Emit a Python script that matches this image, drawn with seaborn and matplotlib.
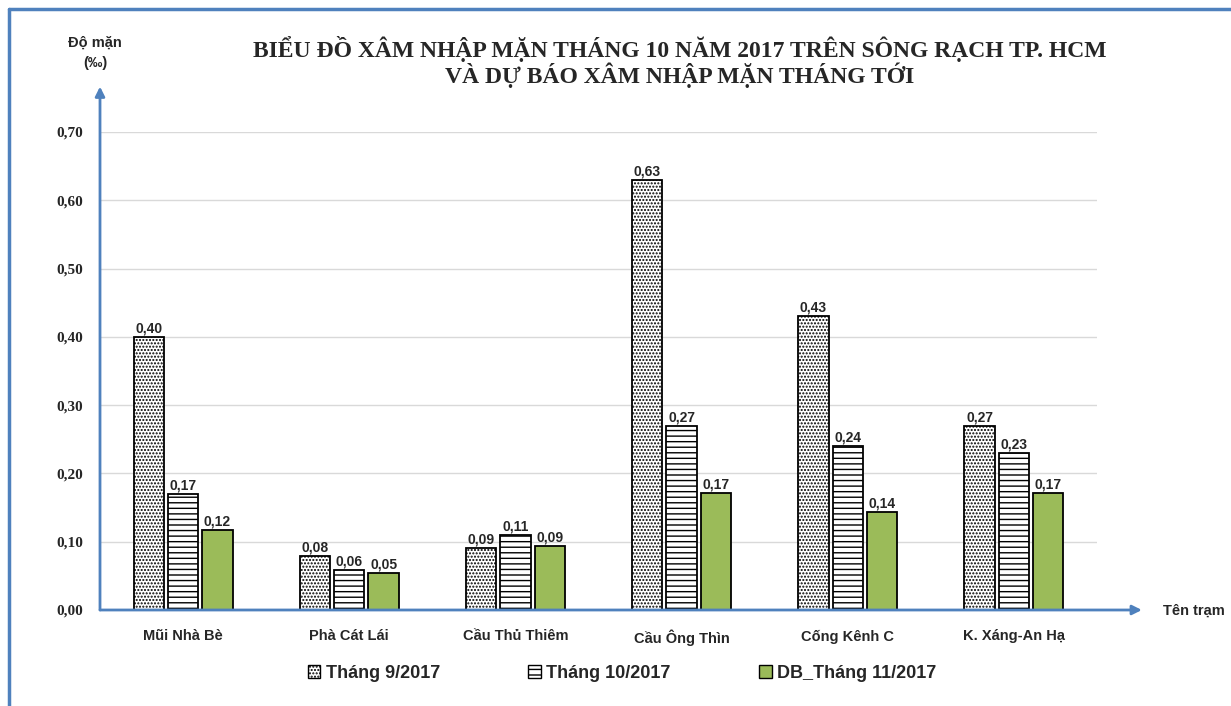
import matplotlib
matplotlib.use('Agg')
import matplotlib.pyplot as plt
import matplotlib.patches as mpatches
import seaborn as sns
import pandas as pd

# --- DATA ---
stations = ['Mũi Nhà Bè', 'Phà Cát Lái', 'Cầu Thủ Thiêm', 'Cầu Ông Thìn', 'Cống Kênh C', 'K. Xáng-An Hạ']
series_names = ['Tháng 9/2017', 'Tháng 10/2017', 'DB_Tháng 11/2017']
thang9 = [0.40, 0.079, 0.091, 0.63, 0.43, 0.27]
thang10 = [0.17, 0.059, 0.11, 0.27, 0.24, 0.23]
db_thang11 = [0.117, 0.054, 0.094, 0.172, 0.144, 0.172]
y_ticks = [0.0, 0.1, 0.2, 0.3, 0.4, 0.5, 0.6, 0.7]

df = pd.DataFrame({
    'station': stations * 3,
    'series': [s for s in series_names for _ in stations],
    'value': thang9 + thang10 + db_thang11,
})

sns.set_style('white')
plt.rcParams['font.family'] = ['Liberation Sans', 'DejaVu Sans']
plt.rcParams['hatch.linewidth'] = 1.0

BLUE = '#4F81BD'
GREEN = '#9BBB59'
fills = ['white', 'white', GREEN]
hatches = ['.....', '---', None]

fig = plt.figure(figsize=(12.31, 7.06), dpi=100)
ax = fig.add_axes([100 / 1231, 1 - 610 / 706, 997 / 1231, 478 / 706])

sns.barplot(data=df, x='station', y='value', hue='series', order=stations,
            hue_order=series_names, width=0.62, gap=0.12, ax=ax, legend=False,
            edgecolor='black', linewidth=1.3)

for cont, fc, h in zip(ax.containers, fills, hatches):
    for bar in cont:
        bar.set_facecolor(fc)
        bar.set_edgecolor('black')
        if h:
            bar.set_hatch(h)
    labels = [f'{b.get_height():.2f}'.replace('.', ',') for b in cont]
    ax.bar_label(cont, labels=labels, padding=1, fontsize=10, fontweight='bold')

ax.set_ylim(0, 0.70)
ax.set_xlim(-0.5, len(stations) - 0.5)
ax.set_yticks(y_ticks)
ax.set_yticklabels([f'{v:.2f}'.replace('.', ',') for v in y_ticks],
                   family='Liberation Serif', fontweight='bold', fontsize=11)
ax.set_xticks(range(len(stations)))
ax.set_xticklabels(stations, fontweight='bold', fontsize=10.5)
ax.tick_params(axis='x', length=0, pad=14)
ax.tick_params(axis='y', length=0, pad=12)
ax.set_xlabel('')
ax.set_ylabel('')
ax.yaxis.grid(True, color='#D9D9D9', linewidth=1)
ax.set_axisbelow(True)
for sp in ax.spines.values():
    sp.set_visible(False)

# axis arrows
arrow = dict(arrowstyle='-|>', color=BLUE, lw=2, mutation_scale=14, shrinkA=0, shrinkB=0)
ax.annotate('', xy=(0, 1.095), xytext=(0, 0), xycoords='axes fraction',
            textcoords='axes fraction', arrowprops=arrow, annotation_clip=False)
ax.annotate('', xy=(1.045, 0), xytext=(0, 0), xycoords='axes fraction',
            textcoords='axes fraction', arrowprops=arrow, annotation_clip=False)

# axis titles
fig.text(95 / 1231, 1 - 53 / 706, 'Độ mặn\n(‰)', ha='center', va='center',
         fontsize=10.5, fontweight='bold', linespacing=1.6)
fig.text(1163 / 1231, 1 - 611 / 706, 'Tên trạm', ha='left', va='center',
         fontsize=10.5, fontweight='bold')

# title
fig.text(680 / 1231, 1 - 62 / 706,
         'BIỂU ĐỒ XÂM NHẬP MẶN THÁNG 10 NĂM 2017 TRÊN SÔNG RẠCH TP. HCM\n'
         'VÀ DỰ BÁO XÂM NHẬP MẶN THÁNG TỚI',
         ha='center', va='center', family='Liberation Serif', fontweight='bold',
         fontsize=17, linespacing=1.0)

# legend
handles = [mpatches.Patch(facecolor=fc, edgecolor='black', hatch=h, linewidth=1)
           for fc, h in zip(fills, hatches)]
fig.legend(handles, series_names, loc='center', bbox_to_anchor=(622 / 1231, 1 - 673 / 706),
           ncol=3, frameon=False, handlelength=0.7, handleheight=0.7,
           handletextpad=0.3, columnspacing=4.9,
           prop={'weight': 'bold', 'size': 13})

# blue outer frame
fig.add_artist(plt.Line2D([9 / 1231, 1], [1 - 9 / 706, 1 - 9 / 706], color=BLUE, lw=2.5,
                          transform=fig.transFigure))
fig.add_artist(plt.Line2D([9 / 1231, 9 / 1231], [0, 1 - 9 / 706], color=BLUE, lw=2.5,
                          transform=fig.transFigure))

fig.savefig('out.png', dpi=100)
